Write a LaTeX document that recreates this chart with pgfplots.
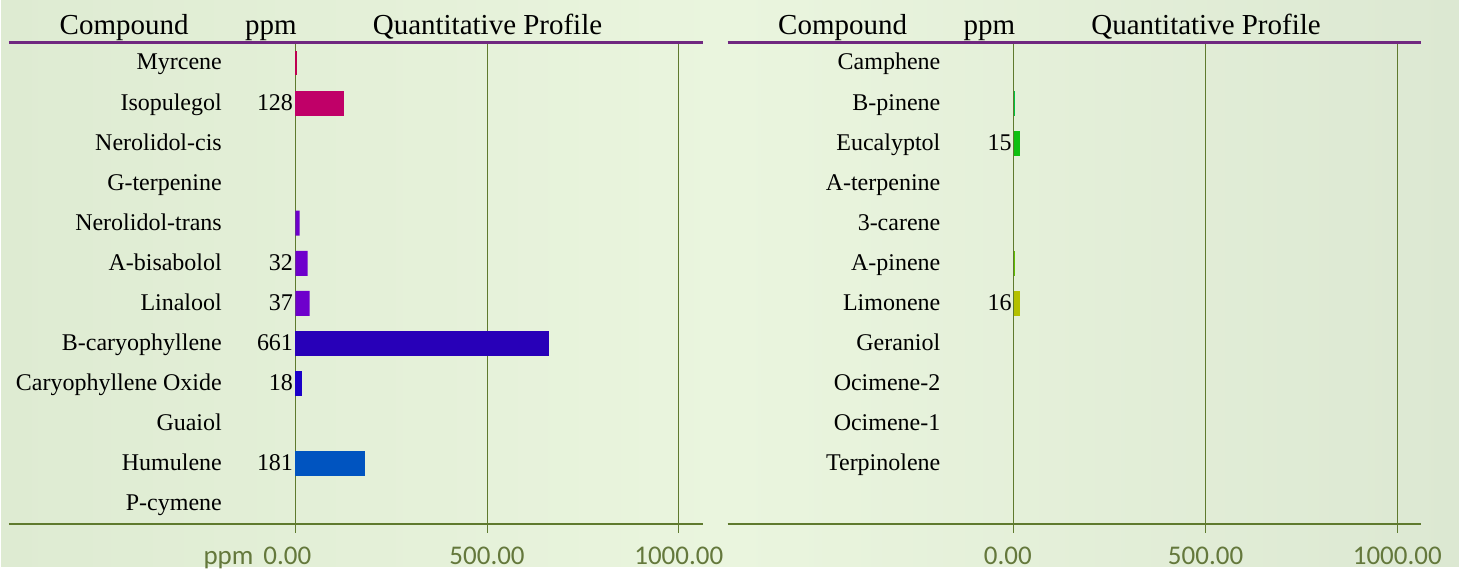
\documentclass[border=0pt]{standalone}
\usepackage{fontspec}
\setmainfont{Liberation Serif}
\newfontfamily\carlito{Carlito}
\usepackage{pgfplots}
\pgfplotsset{compat=1.18}
\definecolor{bgA}{RGB}{222,235,210}
\definecolor{bgB}{RGB}{234,245,222}
\definecolor{bgC}{RGB}{220,232,210}
\definecolor{olivec}{RGB}{95,122,46}
\definecolor{ticktext}{RGB}{100,120,60}
\definecolor{purplec}{RGB}{112,40,128}
\definecolor{cMyr}{RGB}{190,0,80}
\definecolor{cIso}{RGB}{192,0,104}
\definecolor{cPur}{RGB}{110,0,204}
\definecolor{cBca}{RGB}{40,0,184}
\definecolor{cCox}{RGB}{26,0,200}
\definecolor{cHum}{RGB}{0,84,192}
\definecolor{cBpi}{RGB}{0,196,64}
\definecolor{cEuc}{RGB}{16,192,16}
\definecolor{cApi}{RGB}{96,192,0}
\definecolor{cLim}{RGB}{180,192,0}
\pgfplotsset{
  panel/.style={
    scale only axis, width=347pt, height=240.5pt,
    xmin=-747, xmax=1062, ymin=-0.5, ymax=11.5, y dir=reverse,
    axis line style={draw=none},
    xtick={0,500,1000}, xmajorgrids, grid style={olivec, line width=0.5pt},
    major tick length=4.5pt, xtick pos=left, tick align=outside,
    xtick style={olivec, line width=0.5pt},
    xticklabel style={font=\carlito\fontsize{13.5}{15}\selectfont, text=ticktext, yshift=-3.5pt},
    ytick style={draw=none},
    yticklabel style={anchor=east, xshift=114.5pt, font=\fontsize{12}{14}\selectfont,
      text height=7.5pt, text depth=0.5pt},
    clip=false,
  },
  b/.style={xbar, bar width=12.5pt, /pgf/bar shift=0pt, draw=none, fill=#1},
  lab/.style={draw=none, mark=none, nodes near coords, point meta=explicit symbolic,
    nodes near coords style={anchor=east, inner sep=1pt, font=\fontsize{12}{14}\selectfont, text=black,
      text height=7.5pt, text depth=0.5pt}},
}
\newcommand\headers{%
  \draw[purplec, line width=1.5pt] (axis description cs:0,1) -- (axis description cs:1,1);
  \draw[olivec, line width=1pt] (axis description cs:0,0) -- (axis description cs:1,0);
  \node[anchor=base, font=\fontsize{14.5}{16}\selectfont] at (axis description cs:0.166,1) [yshift=4pt] {Compound};
  \node[anchor=base, font=\fontsize{14.5}{16}\selectfont] at (axis description cs:0.3775,1) [yshift=4pt] {ppm};
  \node[anchor=base, font=\fontsize{14.5}{16}\selectfont] at (axis description cs:0.69,1) [yshift=4pt] {Quantitative Profile};
}
\begin{document}
\begin{tikzpicture}
\shade[left color=bgA, right color=bgC, middle color=bgB] (0,0) rectangle (729.5pt,283.5pt);
\begin{axis}[panel, at={(4pt,262pt)}, anchor=north west,
  xticklabels={\llap{ppm\rule{5pt}{0pt}}0.00\rule{8pt}{0pt},500.00,1000.00},
  ytick={0,...,11},
  yticklabels={Myrcene,Isopulegol,Nerolidol-cis,G-terpenine,Nerolidol-trans,A-bisabolol,Linalool,B-caryophyllene,Caryophyllene Oxide,Guaiol,Humulene,P-cymene}]
\addplot[b=cMyr] coordinates {(4,0)};
\addplot[b=cIso] coordinates {(128,1)};
\addplot[b=cPur] coordinates {(11,4) (32,5) (37,6)};
\addplot[b=cBca] coordinates {(661,7)};
\addplot[b=cCox] coordinates {(18,8)};
\addplot[b=cHum] coordinates {(181,10)};
\addplot[lab] table[meta=l] {
x y l
0 1 128
0 5 32
0 6 37
0 7 661
0 8 18
0 10 181
};
\headers
\end{axis}
\begin{axis}[panel, at={(363.5pt,262pt)}, anchor=north west,
  xticklabels={0.00\rule{6pt}{0pt},500.00,1000.00},
  ytick={0,...,10},
  yticklabels={Camphene,B-pinene,Eucalyptol,A-terpenine,3-carene,A-pinene,Limonene,Geraniol,Ocimene-2,Ocimene-1,Terpinolene}]
\addplot[b=cBpi] coordinates {(3,1)};
\addplot[b=cEuc] coordinates {(15,2)};
\addplot[b=cApi] coordinates {(2,5)};
\addplot[b=cLim] coordinates {(16,6)};
\addplot[lab] table[meta=l] {
x y l
0 2 15
0 6 16
};
\headers
\end{axis}
\end{tikzpicture}
\end{document}
